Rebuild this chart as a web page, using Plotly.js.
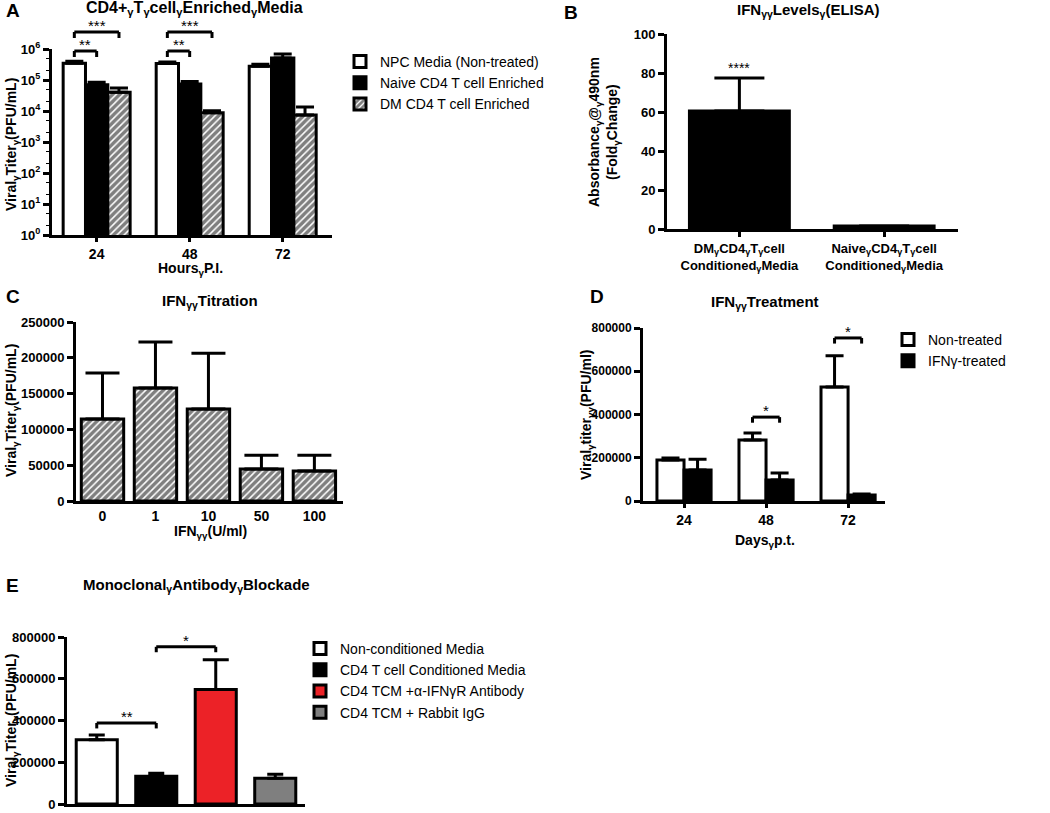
<!DOCTYPE html>
<html><head><meta charset="utf-8">
<script src="https://cdn.plot.ly/plotly-3.0.1.min.js"></script>
<style>html,body{margin:0;padding:0;background:#fff}#chart{width:1050px;height:813px}</style>
</head><body><div id="chart"></div>
<script>
// ---------- Panel A data ----------
const hoursA = ['24', '48', '72'];
const npcA = [350000, 340000, 280000];
const npcAErr = [50000, 40000, 40000];
const naiveA = [70000, 74000, 510000];
const naiveAErr = [15000, 16000, 180000];
const dmA = [40000, 8700, 7400];
const dmAErr = [15000, 1500, 6000];
const namesA = ['NPC Media (Non-treated)', 'Naive CD4 T cell Enriched', 'DM CD4 T cell Enriched'];
const logTickVals = [1, 10, 100, 1000, 10000, 100000, 1000000];
const logTickText = ['10<sup>0</sup>', '10<sup>1</sup>', '10<sup>2</sup>', '10<sup>3</sup>', '10<sup>4</sup>', '10<sup>5</sup>', '10<sup>6</sup>'];

// ---------- Panel B data ----------
const groupsB = ['DM', 'Naive'];
const groupLabelsB = ['DM<sub>γ</sub>CD4<sub>γ</sub>T<sub>γ</sub>cell<br>Conditioned<sub>γ</sub>Media',
                      'Naive<sub>γ</sub>CD4<sub>γ</sub>T<sub>γ</sub>cell<br>Conditioned<sub>γ</sub>Media'];
const absB = [60.5, 1.6];
const absBErr = [17, 0];
const tickValsB = [0, 20, 40, 60, 80, 100];

// ---------- Panel C data ----------
const doseC = ['0', '1', '10', '50', '100'];
const titerC = [114500, 157800, 128500, 44700, 41900];
const titerCErr = [64300, 64200, 78000, 19300, 22000];
const tickValsC = [0, 50000, 100000, 150000, 200000, 250000];

// ---------- Panel D data ----------
const daysD = ['24', '48', '72'];
const nonD = [190000, 282000, 527000];
const nonDErr = [9000, 32000, 145000];
const ifnD = [143000, 97000, 28000];
const ifnDErr = [50000, 32000, 4000];
const namesD = ['Non-treated', 'IFNγ-treated'];
const tickValsD = [0, 200000, 400000, 600000, 800000];

// ---------- Panel E data ----------
const condE = ['Non-conditioned Media', 'CD4 T cell Conditioned Media', 'CD4 TCM +α-IFNγR Antibody', 'CD4 TCM + Rabbit IgG'];
const titerE = [307700, 132500, 549000, 123000];
const titerEErr = [23000, 14500, 142000, 19000];
const colorsE = ['#ffffff', '#000000', '#ec2227', '#7f7f7f'];
const tickValsE = [0, 200000, 400000, 600000, 800000];

// ---------- helpers ----------
const W = 1050, H = 813;
const fx = x => x / W;
const fy = y => 1 - y / H;
const FONT = 'Liberation Sans, Arial, Helvetica, sans-serif';
const zeros = n => new Array(n).fill(0);
const labels = vals => vals.map(v => String(v));

function barTrace(o) {
  const n = o.y.length;
  return {
    type: 'bar', x: o.x, y: o.y, name: o.name, xaxis: o.xa, yaxis: o.ya,
    width: o.w, offset: o.off, legend: o.legend, showlegend: !!o.legend,
    marker: Object.assign({color: o.color, line: {color: 'black', width: 3}}, o.pattern ? {pattern: o.pattern} : {}),
    error_y: {type: 'data', symmetric: false, array: o.err, arrayminus: zeros(n), color: 'black', thickness: 3, width: o.cap, visible: true},
    hoverinfo: 'skip'
  };
}

const hatch = {shape: '/', fgcolor: '#000000', bgcolor: '#ffffff', size: 5, solidity: 0.7, fillmode: 'overlay'};

const traces = [];
// A
const wA = 0.24;
traces.push(barTrace({x: hoursA, y: npcA, err: npcAErr, name: namesA[0], xa: 'x', ya: 'y', w: wA, off: -1.5 * wA, color: '#ffffff', cap: 9, legend: 'legend'}));
traces.push(barTrace({x: hoursA, y: naiveA, err: naiveAErr, name: namesA[1], xa: 'x', ya: 'y', w: wA, off: -0.5 * wA, color: '#000000', cap: 9, legend: 'legend'}));
traces.push(barTrace({x: hoursA, y: dmA, err: dmAErr, name: namesA[2], xa: 'x', ya: 'y', w: wA, off: 0.5 * wA, color: '#ffffff', pattern: hatch, cap: 9, legend: 'legend'}));
// B
traces.push(barTrace({x: groupsB, y: absB, err: absBErr, name: 'B', xa: 'x2', ya: 'y2', w: 0.69, off: -0.345, color: '#000000', cap: 25}));
// C
traces.push(barTrace({x: doseC, y: titerC, err: titerCErr, name: 'C', xa: 'x3', ya: 'y3', w: 0.8, off: -0.4, color: '#ffffff', pattern: hatch, cap: 17}));
// D
const wD = 0.33;
traces.push(barTrace({x: daysD, y: nonD, err: nonDErr, name: namesD[0], xa: 'x4', ya: 'y4', w: wD, off: -wD, color: '#ffffff', cap: 9, legend: 'legend2'}));
traces.push(barTrace({x: daysD, y: ifnD, err: ifnDErr, name: namesD[1], xa: 'x4', ya: 'y4', w: wD, off: 0, color: '#000000', cap: 9, legend: 'legend2'}));
// E
const capE = [8, 8, 13, 8];
condE.forEach((c, i) => {
  traces.push(barTrace({x: [c], y: [titerE[i]], err: [titerEErr[i]], name: c, xa: 'x5', ya: 'y5', w: 0.69, off: -0.345, color: colorsE[i], cap: capE[i], legend: 'legend3'}));
});

const tf = size => ({family: FONT, size, color: 'black', weight: 'bold'});
const axBase = {
  showline: true, linewidth: 3, linecolor: 'black', showgrid: false, zeroline: false,
  ticks: 'outside', tickwidth: 3, ticklen: 6, tickcolor: 'black', ticklabeloverflow: 'allow',
  tickfont: tf(14), fixedrange: true
};
const ax = o => Object.assign({}, axBase, o);

// brackets
const shapes = [];
const annotations = [];
function bracket(xref, yref, x0, x1, y, drop, label, labelShift) {
  const line = {color: 'black', width: 3};
  shapes.push({type: 'line', xref, yref, x0, x1, y0: y, y1: y, line});
  shapes.push({type: 'line', xref, yref, x0, x1: x0, y0: y, y1: y - drop, line});
  shapes.push({type: 'line', xref, yref, x0: x1, x1, y0: y, y1: y - drop, line});
  annotations.push({xref, yref, x: (x0 + x1) / 2, y, text: label, showarrow: false, yanchor: 'bottom', yshift: labelShift || 0,
    font: {family: FONT, size: 15, color: 'black'}});
}
// A brackets (paper y)
[0, 1].forEach(g => {
  bracket('x', 'paper', g - wA, g, fy(51), 6 / H, '**', -4);
  bracket('x', 'paper', g - wA, g + wA, fy(32), 6 / H, '***', -4);
});
// D brackets
bracket('x4', 'y4', 1 - wD / 2, 1 + wD / 2, 388000, 26000, '*', -4);
bracket('x4', 'y4', 2 - wD / 2, 2 + wD / 2, 754000, 26000, '*', -4);
// E brackets
bracket('x5', 'y5', 0, 1, 388000, 26000, '**', -4);
bracket('x5', 'y5', 1, 2, 753000, 26000, '*', -4);
// B stars
annotations.push({xref: 'x2', yref: 'y2', x: 0, y: absB[0] + absBErr[0], text: '****', showarrow: false, yanchor: 'bottom', yshift: 0,
  font: {family: FONT, size: 14, color: 'black'}});

function txt(x, y, text, size, bold, opts) {
  annotations.push(Object.assign({xref: 'paper', yref: 'paper', x: fx(x), y: fy(y), text, showarrow: false,
    xanchor: 'center', yanchor: 'middle', font: {family: FONT, size, color: 'black', weight: bold ? 'bold' : 'normal'}}, opts || {}));
}
// panel letters
txt(4, 10, 'A', 19, true, {xanchor: 'left'});
txt(562, 12, 'B', 19, true, {xanchor: 'left'});
txt(4, 297, 'C', 19, true, {xanchor: 'left'});
txt(588, 297, 'D', 19, true, {xanchor: 'left'});
txt(4, 585, 'E', 19, true, {xanchor: 'left'});
// panel titles
txt(194, 9, 'CD4+<sub>γ</sub>T<sub>γ</sub>cell<sub>γ</sub>Enriched<sub>γ</sub>Media', 16, true);
txt(808, 10, 'IFN<sub>γγ</sub>Levels<sub>γ</sub>(ELISA)', 15, true);
txt(210, 301, 'IFN<sub>γγ</sub>Titration', 15, true);
txt(765, 302, 'IFN<sub>γγ</sub>Treatment', 15, true);
txt(196, 585, 'Monoclonal<sub>γ</sub>Antibody<sub>γ</sub>Blockade', 15, true);
// axis titles
txt(190, 269, 'Hours<sub>γ</sub>P.I.', 14, true);
txt(12, 145, 'Viral<sub>γ</sub>Titer<sub>γ</sub>(PFU/mL)', 14, true, {textangle: -90});
txt(604, 132, 'Absorbance<sub>γ</sub>@<sub>γ</sub>490nm<br>(Fold<sub>γ</sub>Change)', 14, true, {textangle: -90});
txt(210, 532, 'IFN<sub>γγ</sub>(U/ml)', 14, true);
txt(12, 411, 'Viral<sub>γ</sub>Titer<sub>γ</sub>(PFU/mL)', 14, true, {textangle: -90});
txt(765, 541, 'Days<sub>γ</sub>p.t.', 14, true);
txt(587, 415, 'Viral<sub>γ</sub>titer<sub>γγ</sub>(PFU/ml)', 14, true, {textangle: -90});
txt(12, 721, 'Viral<sub>γ</sub>Titer<sub>γ</sub>(PFU/mL)', 14, true, {textangle: -90});

const legBase = {xanchor: 'left', yanchor: 'top', bgcolor: 'rgba(0,0,0,0)', tracegroupgap: 0,
  font: {family: FONT, size: 14, color: 'black'}, itemclick: false, itemdoubleclick: false};

const layout = {
  width: W, height: H, margin: {l: 0, r: 0, t: 0, b: 0},
  paper_bgcolor: '#ffffff', plot_bgcolor: 'rgba(0,0,0,0)',
  barmode: 'overlay', showlegend: true,
  font: {family: FONT, color: 'black'},
  xaxis: ax({domain: [fx(52), fx(332)], anchor: 'y', type: 'category', range: [-0.48, 2.53], ticklen: 4}),
  yaxis: ax({domain: [fy(235), fy(49)], anchor: 'x', type: 'log', range: [0, 6], tickmode: 'array',
    tickvals: logTickVals, ticktext: logTickText, tickfont: tf(13),
    minor: {ticks: 'outside', ticklen: 3, tickwidth: 1.5, tickcolor: 'black', showgrid: false}}),
  xaxis2: ax({domain: [fx(667), fx(958)], anchor: 'y2', type: 'category', range: [-0.5, 1.51], tickmode: 'array',
    tickvals: groupsB, ticktext: groupLabelsB, ticklen: 5, tickfont: tf(13)}),
  yaxis2: ax({domain: [fy(229), fy(34)], anchor: 'x2', range: [0, 100], tickmode: 'array', tickvals: tickValsB, ticktext: labels(tickValsB), tickfont: tf(13)}),
  xaxis3: ax({domain: [fx(76), fx(343)], anchor: 'y3', type: 'category', range: [-0.5, 4.54], ticklen: 0}),
  yaxis3: ax({domain: [fy(501), fy(322)], anchor: 'x3', range: [0, 250000], tickmode: 'array', tickvals: tickValsC, ticktext: labels(tickValsC), tickfont: tf(13)}),
  xaxis4: ax({domain: [fx(643), fx(885)], anchor: 'y4', type: 'category', range: [-0.5, 2.45], ticklen: 4}),
  yaxis4: ax({domain: [fy(501), fy(328)], anchor: 'x4', range: [0, 800000], tickmode: 'array', tickvals: tickValsD, ticktext: labels(tickValsD), tickfont: tf(12)}),
  xaxis5: ax({domain: [fx(67), fx(305)], anchor: 'y5', type: 'category', range: [-0.5, 3.5], ticks: '', showticklabels: false}),
  yaxis5: ax({domain: [fy(804), fy(637)], anchor: 'x5', range: [0, 800000], tickmode: 'array', tickvals: tickValsE, ticktext: labels(tickValsE), tickfont: tf(13)}),
  legend: Object.assign({}, legBase, {x: fx(340), y: fy(46)}),
  legend2: Object.assign({}, legBase, {x: fx(888), y: fy(324)}),
  legend3: Object.assign({}, legBase, {x: fx(300), y: fy(633)}),
  shapes, annotations
};

Plotly.newPlot('chart', traces, layout, {staticPlot: true, displayModeBar: false});
</script>
</body></html>
